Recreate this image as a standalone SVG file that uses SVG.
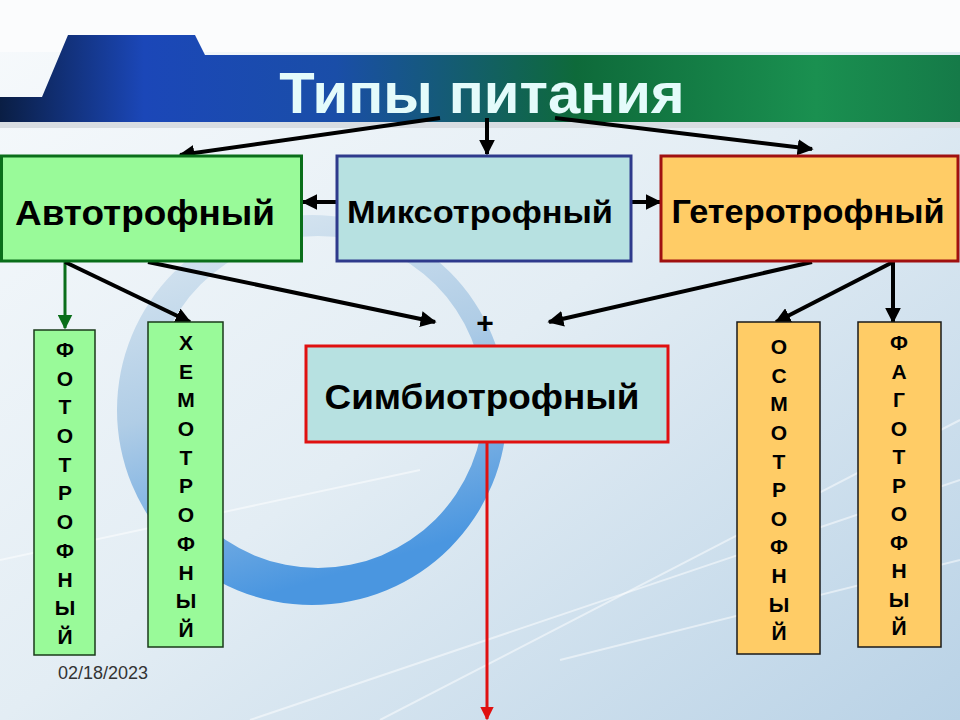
<svg xmlns="http://www.w3.org/2000/svg" width="960" height="720" viewBox="0 0 960 720">
<style>
.lbl{font-family:"Liberation Sans",Arial,sans-serif;font-weight:bold;fill:#000;text-anchor:middle}
.vert{font-size:21px}
.arr{stroke:#000;stroke-width:4;fill:none;marker-end:url(#ah)}
</style>
<defs>
<linearGradient id="bg" x1="0" y1="0" x2="1" y2="1">
<stop offset="0" stop-color="#f7fafc"/>
<stop offset="0.5" stop-color="#e3edf4"/>
<stop offset="1" stop-color="#b9d2e6"/>
</linearGradient>
<linearGradient id="band" x1="0" y1="0" x2="1" y2="0">
<stop offset="0" stop-color="#0a1e44"/>
<stop offset="0.15" stop-color="#1b47b8"/>
<stop offset="0.35" stop-color="#1a4ea8"/>
<stop offset="0.6" stop-color="#0e6a3a"/>
<stop offset="0.85" stop-color="#1a9050"/>
<stop offset="1" stop-color="#157a48"/>
</linearGradient>
<linearGradient id="ring" x1="0" y1="0" x2="0.3" y2="1">
<stop offset="0" stop-color="#dfeaf2"/>
<stop offset="0.5" stop-color="#b0cde6"/>
<stop offset="1" stop-color="#4a96e0"/>
</linearGradient>
<marker id="ah" viewBox="0 0 10 10" refX="9" refY="5" markerWidth="4" markerHeight="4" orient="auto" markerUnits="strokeWidth">
<path d="M0,0L10,5L0,10z" fill="#000"/>
</marker>
<marker id="ahg" viewBox="0 0 10 10" refX="9" refY="5" markerWidth="5" markerHeight="5" orient="auto" markerUnits="strokeWidth">
<path d="M0,0L10,5L0,10z" fill="#0a6e1a"/>
</marker>
<marker id="ahr" viewBox="0 0 10 10" refX="9" refY="5" markerWidth="4.5" markerHeight="4.5" orient="auto" markerUnits="strokeWidth">
<path d="M0,0L10,5L0,10z" fill="#e01010"/>
</marker>
</defs>
<rect x="0" y="0" width="960" height="720" fill="url(#bg)"/>
<g stroke="#ffffff" stroke-opacity="0.5" stroke-width="2" fill="none">
<path d="M380,720L960,420"/>
<path d="M250,720L960,480"/>
<path d="M0,560L420,470"/>
<path d="M560,660L960,560"/>
</g>
<path d="M117,410A195,195 0 1,0 507,410A195,195 0 1,0 117,410Z M152,402A166,166 0 1,1 484,402A166,166 0 1,1 152,402Z" fill="url(#ring)" fill-rule="evenodd"/>
<rect x="0" y="0" width="960" height="52" fill="#fbfcfd"/>
<path d="M68,35L195,35L205,55L960,55L960,122L0,122L0,97L42,97Z" fill="url(#band)"/>
<rect x="0" y="122" width="960" height="6" fill="#d8dde2"/>
<text x="482" y="113" font-family="Liberation Sans,Arial,sans-serif" font-weight="bold" font-size="58" fill="#e4fbfb" text-anchor="middle">Типы питания</text>
<g id="connectors">
<path class="arr" d="M440,118L180,155"/>
<path class="arr" d="M487,118L487,154"/>
<path class="arr" d="M555,118L812,149"/>
<path class="arr" d="M336,202L303,202"/>
<path class="arr" d="M632,202L660,202"/>
<path d="M65,262L65,328" stroke="#0a6e1a" stroke-width="3" fill="none" marker-end="url(#ahg)"/>
<path class="arr" d="M65,262L190,322"/>
<path class="arr" d="M148,262L435,322"/>
<path class="arr" d="M812,262L549,322"/>
<path class="arr" d="M893,262L776,322"/>
<path class="arr" d="M893,262L893,322"/>
<path d="M857,258L863,250L869,258Z" fill="#000"/>
<path d="M487,442L487,719" stroke="#e01010" stroke-width="3" fill="none" marker-end="url(#ahr)"/>
</g>
<text x="485" y="333" font-family="Liberation Sans,Arial,sans-serif" font-weight="bold" font-size="30" fill="#000" text-anchor="middle">+</text>
<g id="avto">
<rect x="1.5" y="156" width="300" height="105" fill="#99fa99" stroke="#0a6e1a" stroke-width="3"/>
<text class="lbl" font-size="35" x="145" y="225" textLength="260" lengthAdjust="spacingAndGlyphs">Автотрофный</text>
</g>
<g id="mikso">
<rect x="337" y="156" width="294" height="105" fill="#b7e1e1" stroke="#2e3a8c" stroke-width="3"/>
<text class="lbl" font-size="31" x="480" y="223" textLength="266" lengthAdjust="spacingAndGlyphs">Миксотрофный</text>
</g>
<g id="getero">
<rect x="661" y="156" width="297" height="105" fill="#ffcc66" stroke="#a01010" stroke-width="3"/>
<text class="lbl" font-size="33" x="808" y="223" textLength="273" lengthAdjust="spacingAndGlyphs">Гетеротрофный</text>
</g>
<g id="simbio">
<rect x="306" y="346" width="362" height="96" fill="#b7e1e1" stroke="#e01010" stroke-width="3"/>
<text class="lbl" font-size="35" x="482" y="409" textLength="315" lengthAdjust="spacingAndGlyphs">Симбиотрофный</text>
</g>
<g id="foto">
<rect x="34" y="330" width="61" height="325" fill="#99fa99" stroke="#1a3a1a" stroke-width="1.5"/>
<text class="lbl vert" x="65">
<tspan x="65" y="357">Ф</tspan><tspan x="65" y="386">О</tspan><tspan x="65" y="414">Т</tspan><tspan x="65" y="443">О</tspan><tspan x="65" y="472">Т</tspan><tspan x="65" y="500">Р</tspan><tspan x="65" y="529">О</tspan><tspan x="65" y="558">Ф</tspan><tspan x="65" y="587">Н</tspan><tspan x="65" y="615">Ы</tspan><tspan x="65" y="644">Й</tspan>
</text>
</g>
<g id="hemo">
<rect x="148" y="322" width="75" height="325" fill="#99fa99" stroke="#1a3a1a" stroke-width="1.5"/>
<text class="lbl vert" x="186">
<tspan x="186" y="350">Х</tspan><tspan x="186" y="379">Е</tspan><tspan x="186" y="407">М</tspan><tspan x="186" y="436">О</tspan><tspan x="186" y="465">Т</tspan><tspan x="186" y="493">Р</tspan><tspan x="186" y="522">О</tspan><tspan x="186" y="551">Ф</tspan><tspan x="186" y="580">Н</tspan><tspan x="186" y="608">Ы</tspan><tspan x="186" y="637">Й</tspan>
</text>
</g>
<g id="osmo">
<rect x="737" y="322" width="83" height="332" fill="#ffcc66" stroke="#1a1a1a" stroke-width="1.5"/>
<text class="lbl vert" x="779">
<tspan x="779" y="354">О</tspan><tspan x="779" y="383">С</tspan><tspan x="779" y="411">М</tspan><tspan x="779" y="440">О</tspan><tspan x="779" y="469">Т</tspan><tspan x="779" y="497">Р</tspan><tspan x="779" y="526">О</tspan><tspan x="779" y="554">Ф</tspan><tspan x="779" y="583">Н</tspan><tspan x="779" y="612">Ы</tspan><tspan x="779" y="640">Й</tspan>
</text>
</g>
<g id="fago">
<rect x="858" y="322" width="83" height="325" fill="#ffcc66" stroke="#1a1a1a" stroke-width="1.5"/>
<text class="lbl vert" x="899">
<tspan x="899" y="350">Ф</tspan><tspan x="899" y="379">А</tspan><tspan x="899" y="407">Г</tspan><tspan x="899" y="436">О</tspan><tspan x="899" y="464">Т</tspan><tspan x="899" y="493">Р</tspan><tspan x="899" y="521">О</tspan><tspan x="899" y="550">Ф</tspan><tspan x="899" y="578">Н</tspan><tspan x="899" y="607">Ы</tspan><tspan x="899" y="635">Й</tspan>
</text>
</g>
<text x="58" y="679" font-family="Liberation Sans,Arial,sans-serif" font-size="18" fill="#333">02/18/2023</text>
</svg>
